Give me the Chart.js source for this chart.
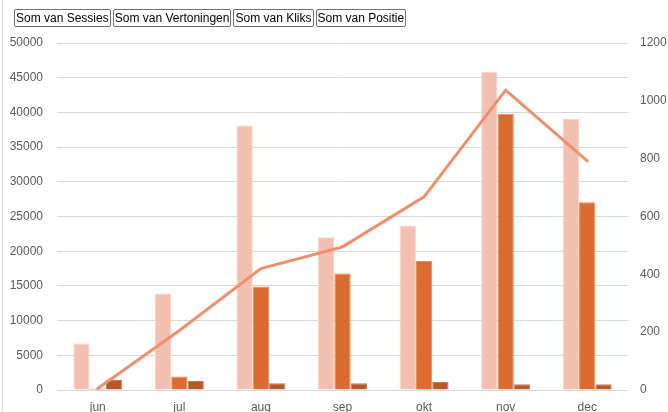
<!DOCTYPE html>
<html>
<head>
<meta charset="utf-8">
<script src="https://cdn.jsdelivr.net/npm/chart.js@4"></script>
<style>
  html, body { margin: 0; padding: 0; background: #fff; }
  #wrap { position: relative; width: 668px; height: 412px; overflow: hidden; }
  #edge { position: absolute; left: 2px; top: 0; width: 1px; height: 412px; background: #d4d4d4; }
  #buttons { position: absolute; left: 14px; top: 9px; display: flex; gap: 2px; z-index: 2; }
  .fld {
    font: 12px "Liberation Sans", Arial, sans-serif;
    color: #000;
    background: #fff;
    border: 1px solid #6f6f6f;
    border-radius: 2px;
    height: 16px;
    line-height: 16px;
    padding: 0 1px;
    box-sizing: content-box;
    white-space: nowrap;
  }
</style>
</head>
<body>
<div id="wrap">
  <div id="edge"></div>
  <div id="buttons"></div>
  <canvas id="chart" width="668" height="412"></canvas>
</div>
<script>
// data
const months = ['jun', 'jul', 'aug', 'sep', 'okt', 'nov', 'dec'];
const sessies = [6700, 13900, 38100, 22000, 23700, 45850, 39100];
const vertoningen = [220, 1950, 14900, 16800, 18600, 39800, 27050];
const kliks = [1450, 1300, 960, 960, 1150, 820, 820];
const positie = [5, 206, 420, 495, 668, 1037, 792];

const fieldNames = ['Som van Sessies', 'Som van Vertoningen', 'Som van Kliks', 'Som van Positie'];

// field buttons on top (Excel pivot style)
const btnBox = document.getElementById('buttons');
fieldNames.forEach(name => {
    const b = document.createElement('div');
    b.className = 'fld';
    b.textContent = name;
    btnBox.appendChild(b);
});

const tickFont = { family: '"Liberation Sans", Arial, sans-serif', size: 12 };
const tickColor = '#595959';
const plain = v => String(v);

new Chart(document.getElementById('chart').getContext('2d'), {
    type: 'bar',
    data: {
        labels: months,
        datasets: [
            {
                type: 'line',
                label: fieldNames[3],
                data: positie,
                yAxisID: 'y1',
                borderColor: '#ED8F6C',
                borderWidth: 3,
                pointRadius: 0,
                tension: 0,
                borderCapStyle: 'round',
                order: 0,
            },
            {
                label: fieldNames[0],
                data: sessies,
                yAxisID: 'y',
                backgroundColor: '#F3BFB0',
                borderColor: '#F7D3C8',
                borderWidth: 1,
                order: 1,
            },
            {
                label: fieldNames[1],
                data: vertoningen,
                yAxisID: 'y',
                backgroundColor: '#D96C2E',
                borderColor: '#E08A5A',
                borderWidth: 1,
                order: 1,
            },
            {
                label: fieldNames[2],
                data: kliks,
                yAxisID: 'y',
                backgroundColor: '#B5582B',
                borderColor: '#C67A55',
                borderWidth: 1,
                order: 1,
            },
        ]
    },
    options: {
        responsive: false,
        animation: false,
        layout: { padding: { top: 43, left: 0, right: 0, bottom: 0 } },
        datasets: {
            bar: { categoryPercentage: 0.6, barPercentage: 1.0 }
        },
        plugins: {
            legend: { display: false },
            tooltip: { enabled: false },
        },
        scales: {
            x: {
                grid: { display: false, drawTicks: false },
                border: { display: false },
                ticks: { color: tickColor, font: tickFont, padding: 10 },
                afterFit: s => { s.height = 22; },
            },
            y: {
                position: 'left',
                min: 0,
                max: 50000,
                ticks: { stepSize: 5000, color: tickColor, font: tickFont, padding: 14, callback: plain },
                grid: { color: '#D9D9D9', drawTicks: false },
                border: { display: false },
                afterFit: s => { s.width = 57; },
            },
            y1: {
                position: 'right',
                min: 0,
                max: 1200,
                ticks: { stepSize: 200, color: tickColor, font: tickFont, padding: 12, callback: plain },
                grid: { display: false, drawTicks: false },
                border: { display: false },
                afterFit: s => { s.width = 40; },
            },
        },
    }
});
</script>
</body>
</html>
